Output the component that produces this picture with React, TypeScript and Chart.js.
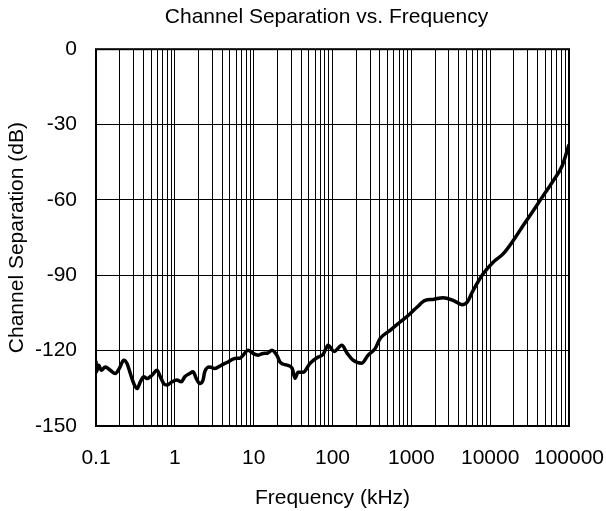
import { useEffect, useRef } from 'react';
import { Chart, registerables } from 'chart.js';

Chart.register(...registerables);

// Frequency in kHz
const freqKHz = [
  0.1, 0.101, 0.1082, 0.1167, 0.1312, 0.1518, 0.1758, 0.1975, 0.2246, 0.2474,
  0.2725, 0.3009, 0.3314, 0.365, 0.403, 0.4439, 0.5136, 0.5942, 0.6546, 0.723,
  0.7962, 0.9215, 1.066, 1.209, 1.336, 1.546, 1.702, 1.875, 2.07, 2.28,
  2.396, 2.773, 3.209, 3.891, 4.733, 5.757, 6.662, 7.337, 8.488, 9.826,
  11.37, 13.16, 14.92, 17.1, 19.8, 21.6, 26.5, 30.7, 33.5, 36.6,
  42.4, 52.0, 63.8, 76.0, 87.9, 104.8, 131.3, 153, 182, 235,
  283, 347, 402, 538, 721, 966, 1186, 1497, 1891, 2535,
  3392, 4415, 5105, 6086, 8147, 10900, 14600, 19600, 26200, 35200,
  47100, 63000, 82000, 100000,
];

// Channel separation in dB
const separationDb = [
  -124, -128.5, -125.8, -127.8, -126.5, -127.8, -129.1, -127.1, -123.8, -125.1,
  -129.1, -133.1, -135.1, -132.4, -130.4, -131.1, -129.8, -127.8, -130.4, -133.1,
  -133.7, -132.4, -131.7, -132.4, -130.4, -129.1, -128.4, -131.1, -133.1, -131.7,
  -128.4, -126.5, -127.1, -125.8, -124.5, -123.1, -123.0, -121.8, -119.8, -121.1,
  -121.8, -121.1, -121.0, -119.8, -122.0, -124.6, -125.8, -127.0, -131.0, -128.6,
  -128.6, -125.0, -122.8, -121.5, -117.9, -120.3, -117.9, -121.0, -123.8, -125.0,
  -121.8, -119.2, -115.2, -111.9, -108.6, -105.3, -102.6, -100.0, -99.6, -98.9,
  -100.0, -101.7, -100.7, -96.0, -89.4, -84.8, -81.5, -76.2, -70.2, -64.3,
  -58.3, -52.4, -46.4, -38.0,
];

const xDecades = [0.1, 1, 10, 100, 1000, 10000, 100000];
const xDecadeLabels = ['0.1', '1', '10', '100', '1000', '10000', '100000'];
const yTicks = [0, -30, -60, -90, -120, -150];

const FONT = "Arial, 'Liberation Sans', sans-serif";

function buildXTicks(): number[] {
  const out: number[] = [];
  for (let i = 0; i < xDecades.length - 1; i++) {
    for (let m = 1; m <= 9; m++) {
      out.push(Number((m * xDecades[i]).toPrecision(10)));
    }
  }
  out.push(xDecades[xDecades.length - 1]);
  return out;
}

export default function App() {
  const ref = useRef<HTMLCanvasElement | null>(null);

  useEffect(() => {
    if (!ref.current) return;
    const frame = {
      id: 'frame',
      afterLayout(chart: any) {
        const tb = chart.titleBlock;
        if (tb) {
          tb.left = chart.chartArea.left - 12;
          tb.right = chart.chartArea.right;
        }
      },
      afterDraw(chart: any) {
        const { ctx, chartArea } = chart;
        ctx.save();
        ctx.strokeStyle = '#000';
        ctx.lineWidth = 2;
        ctx.strokeRect(
          chartArea.left,
          chartArea.top,
          chartArea.right - chartArea.left,
          chartArea.bottom - chartArea.top
        );
        ctx.restore();
      },
    };

    const xTickValues = buildXTicks();
    const font = { family: FONT, size: 21, weight: 'normal' as const };

    const chart = new Chart(ref.current, {
      type: 'line',
      data: {
        datasets: [
          {
            data: freqKHz.map((f, i) => ({ x: f, y: separationDb[i] })),
            borderColor: '#000',
            borderWidth: 3.5,
            pointRadius: 0,
            cubicInterpolationMode: 'monotone',
            fill: false,
          },
        ],
      },
      options: {
        responsive: false,
        animation: false,
        devicePixelRatio: 1,
        layout: { padding: { left: 0, right: 37, top: 0, bottom: 0 } },
        plugins: {
          legend: { display: false },
          tooltip: { enabled: false },
          title: {
            display: true,
            text: 'Channel Separation vs. Frequency',
            fullSize: false,
            color: '#000',
            font,
            padding: { top: 5, bottom: 19 },
          },
        },
        scales: {
          x: {
            type: 'logarithmic',
            min: 0.1,
            max: 100000,
            afterBuildTicks: (s: any) => {
              s.ticks = xTickValues.map((v) => ({ value: v }));
            },
            afterFit: (s: any) => {
              s.height = 85;
              s.paddingLeft = 0;
              s.paddingRight = 0;
            },
            ticks: {
              autoSkip: false,
              maxRotation: 0,
              minRotation: 0,
              padding: 20,
              color: '#000',
              font,
              callback: (v: any) => {
                const val = Number(v);
                const idx = xDecades.findIndex((d) => Math.abs(val - d) / d < 1e-9);
                return idx >= 0 ? xDecadeLabels[idx] : '';
              },
            },
            grid: { color: '#000', lineWidth: 1, drawTicks: false },
            border: { display: false },
            title: {
              display: true,
              text: 'Frequency (kHz)',
              color: '#000',
              font,
              padding: { top: 6, bottom: 0 },
            },
          },
          y: {
            type: 'linear',
            min: -150,
            max: 0,
            afterBuildTicks: (s: any) => {
              s.ticks = yTicks.map((v) => ({ value: v }));
            },
            afterFit: (s: any) => {
              s.width = 96;
              s.paddingTop = 0;
              s.paddingBottom = 0;
            },
            ticks: {
              padding: 19,
              color: '#000',
              font,
            },
            grid: { color: '#000', lineWidth: 1, drawTicks: false },
            border: { display: false },
            title: {
              display: true,
              text: 'Channel Separation (dB)',
              color: '#000',
              font,
              padding: { top: 5, bottom: 0 },
            },
          },
        },
      },
      plugins: [frame],
    } as any);

    return () => chart.destroy();
  }, []);

  return (
    <div
      style={{
        position: 'absolute',
        left: 0,
        top: 0,
        width: 606,
        height: 511,
        background: '#fff',
      }}
    >
      <canvas ref={ref} width={606} height={511} style={{ display: 'block' }} />
    </div>
  );
}
